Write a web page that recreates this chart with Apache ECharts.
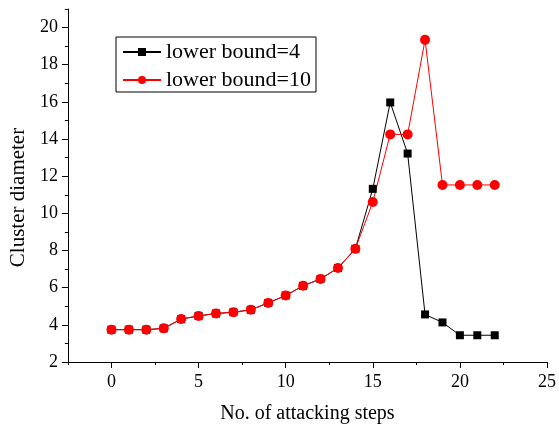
<!DOCTYPE html>
<html>
<head>
<meta charset="utf-8">
<script src="https://cdn.jsdelivr.net/npm/echarts@6/dist/echarts.min.js"></script>
<style>
html,body{margin:0;padding:0;background:#fff;font-family:'Liberation Serif',serif;}
#main{width:559px;height:429px;}
</style>
</head>
<body>
<div id="main"></div>
<script>
const steps = [0,1,2,3,4,5,6,7,8,9,10,11,12,13,14,15,16,17,18,19,20,21,22];
const lowerBound4 = [3.74,3.74,3.74,3.81,4.31,4.48,4.61,4.68,4.81,5.18,5.58,6.10,6.47,7.06,8.09,11.32,15.97,13.22,4.56,4.13,3.44,3.44,3.44];
const lowerBound10 = [3.74,3.74,3.74,3.81,4.31,4.48,4.61,4.68,4.81,5.18,5.58,6.10,6.47,7.06,8.09,10.61,14.25,14.25,19.34,11.53,11.53,11.53,11.53];
const xTicks = [0,5,10,15,20,25];
const xMinorTicks = [-2.5,2.5,7.5,12.5,17.5,22.5];
const yTicks = [2,4,6,8,10,12,14,16,18,20];
const yMinorTicks = [3,5,7,9,11,13,15,17,19,21];
const seriesNames = ['lower bound=4','lower bound=10'];

const FONT = "'Liberation Serif', 'Times New Roman', serif";
const chart = echarts.init(document.getElementById('main'), null, {renderer:'canvas'});
const xRange = {min:-2.5, max:25};
const yRange = {min:2, max:21};
const axisLineStyle = {color:'#000', width:1};
const tickLabelStyle = {fontFamily:FONT, fontSize:18, color:'#000', fontWeight:'normal'};

chart.setOption({
  animation:false,
  backgroundColor:'#fff',
  textStyle:{fontFamily:FONT, color:'#000'},
  grid:{left:67, right:9, top:9, bottom:64, containLabel:false},
  legend:{
    orient:'vertical', left:116, top:37,
    data:seriesNames,
    borderColor:'#000', borderWidth:1, borderRadius:0,
    padding:[4,5,1,6], itemGap:6,
    itemWidth:38, itemHeight:10, itemTextGap:5,
    textStyle:{fontFamily:FONT, fontSize:22, color:'#000', lineHeight:22}
  },
  xAxis:[{
    type:'value', position:'bottom', ...xRange,
    name:'No. of attacking steps', nameLocation:'middle', nameGap:42,
    nameTextStyle:{fontFamily:FONT, fontSize:20, color:'#000'},
    axisLine:{show:true, onZero:false, lineStyle:axisLineStyle},
    axisTick:{show:true, inside:false, length:6, customValues:xTicks, lineStyle:axisLineStyle},
    axisLabel:Object.assign({show:true, margin:11, customValues:xTicks}, tickLabelStyle, {textStyle:tickLabelStyle}),
    splitLine:{show:false}
  },{
    type:'value', position:'bottom', ...xRange,
    axisLine:{show:false, onZero:false},
    axisTick:{show:true, inside:false, length:3, customValues:xMinorTicks, lineStyle:axisLineStyle},
    axisLabel:{show:false},
    splitLine:{show:false}
  }],
  yAxis:[{
    type:'value', position:'left', ...yRange,
    name:'Cluster diameter', nameLocation:'middle', nameGap:38, nameRotate:90,
    nameTextStyle:{fontFamily:FONT, fontSize:21, color:'#000', padding:[0,24,0,0]},
    axisLine:{show:true, onZero:false, lineStyle:axisLineStyle},
    axisTick:{show:true, inside:false, length:6, customValues:yTicks, lineStyle:axisLineStyle},
    axisLabel:Object.assign({show:true, margin:10, customValues:yTicks}, tickLabelStyle, {textStyle:tickLabelStyle}),
    splitLine:{show:false}
  },{
    type:'value', position:'left', ...yRange,
    axisLine:{show:false, onZero:false},
    axisTick:{show:true, inside:false, length:3, customValues:yMinorTicks, lineStyle:axisLineStyle},
    axisLabel:{show:false},
    splitLine:{show:false}
  }],
  series:[{
    name:seriesNames[0], type:'line', xAxisIndex:0, yAxisIndex:0,
    data:steps.map((s,i)=>[s, lowerBound4[i]]),
    symbol:'rect', symbolSize:8,
    lineStyle:{color:'#000', width:1},
    itemStyle:{color:'#000'}
  },{
    name:seriesNames[1], type:'line', xAxisIndex:0, yAxisIndex:0,
    data:steps.map((s,i)=>[s, lowerBound10[i]]),
    symbol:'circle', symbolSize:10,
    lineStyle:{color:'#ff0000', width:1},
    itemStyle:{color:'#ff0000'}
  }]
});
</script>
</body>
</html>
